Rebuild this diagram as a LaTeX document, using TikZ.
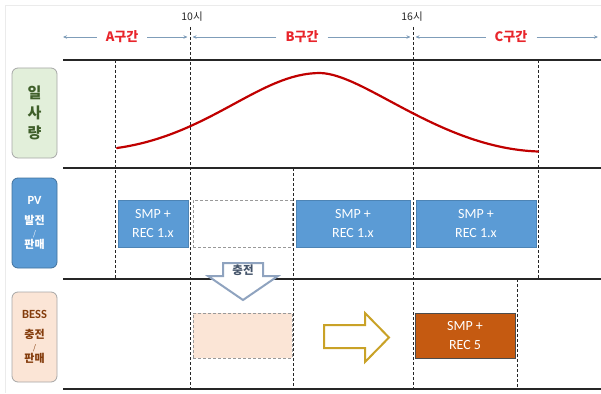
\documentclass[tikz,border=0pt]{standalone}
\usepackage{fontspec}
\setmainfont{Carlito}
\newfontfamily\kr{Noto Sans CJK KR}
\usetikzlibrary{arrows.meta}
\definecolor{ivline}{HTML}{7F9DB9}
\definecolor{ivred}{HTML}{E8252B}
\definecolor{curvered}{HTML}{C00000}
\definecolor{pvblue}{HTML}{5B9BD5}
\definecolor{pvborder}{HTML}{41719C}
\definecolor{bessorange}{HTML}{C55A11}
\definecolor{peach}{HTML}{FBE5D6}
\definecolor{brown}{HTML}{843C0C}
\definecolor{sungreen}{HTML}{E2EFDA}
\definecolor{sundark}{HTML}{3F5F2A}
\definecolor{gold}{HTML}{C9A227}
\definecolor{downblue}{HTML}{8FA3BF}
\definecolor{downtext}{HTML}{44546A}
\tikzset{
  ivarrow/.style={draw=ivline, line width=0.8pt, -{Stealth[length=4pt,width=3.5pt]}},
  ivlabel/.style={font=\kr\bfseries\fontsize{13}{15}\selectfont, text=ivred, inner xsep=9pt, inner ysep=2pt},
  hourlabel/.style={font=\kr\fontsize{10.5}{12}\selectfont, text=black!85},
  rowline/.style={draw=black!85, line width=1.1pt},
  vdash/.style={draw=black!85, line width=0.8pt, dash pattern=on 3pt off 2pt},
  sidebox/.style={rounded corners=6pt, minimum width=45pt, minimum height=90pt, line width=0.8pt, align=center},
  pvbox/.style={fill=pvblue, draw=pvblue!85!black, line width=0.5pt, text=white, align=center,
    font=\fontsize{14}{19}\selectfont, minimum height=47pt, inner sep=0pt},
  dashbox/.style={draw=gray!80, line width=0.8pt, dash pattern=on 3pt off 2pt, minimum height=47pt, inner sep=0pt},
}
\begin{document}
\begin{tikzpicture}[x=1pt,y=-1pt]
\useasboundingbox (0,0) rectangle (601,393);
\draw[black!8, line width=0.6pt] (5,5) -- (601,5) (5,5) -- (5,393);

% horizontal row lines
\draw[rowline] (63,60) -- (601,60);
\draw[rowline] (63,168) -- (601,168);
\draw[rowline] (63,279) -- (601,279);
\draw[rowline] (63,389) -- (601,389);

% vertical dashed lines
\draw[vdash] (115,60) -- (115,279);
\draw[vdash] (190,27) -- (190,389);
\draw[vdash] (413,27) -- (413,389);
\draw[vdash] (538,60) -- (538,279);
\draw[vdash] (293.5,168) -- (293.5,389);
\draw[vdash] (517,279) -- (517,389);

% hour labels
\node[hourlabel] (h10) at (192,17) {10시};
\node[hourlabel] (h16) at (412,17) {16시};

% interval arrows
\coordinate (a0) at (63,37);
\coordinate (a1) at (187.5,37);
\coordinate (b0) at (192.5,37);
\coordinate (b1) at (410.5,37);
\coordinate (c0) at (415.5,37);
\coordinate (c1) at (598,37);
\node[ivlabel] (A) at (122,37) {A구간};
\node[ivlabel] (B) at (302,37) {B구간};
\node[ivlabel] (C) at (511,37) {C구간};
\draw[ivarrow] (A) -- (a0);
\draw[ivarrow] (A) -- (a1);
\draw[ivarrow] (B) -- (b0);
\draw[ivarrow] (B) -- (b1);
\draw[ivarrow] (C) -- (c0);
\draw[ivarrow] (C) -- (c1);

% irradiance curve
\draw[curvered, line width=2.2pt, line cap=round]
 (117,148) .. controls (210,135) and (260,73) .. (320,73)
 .. controls (365,74) and (440,148) .. (538,151.5);

% side labels
\node[sidebox, fill=sungreen, draw=gray!70, text=sundark, font=\kr\bfseries\fontsize{15}{20}\selectfont] (sun) at (34.5,113) {일\\사\\량};
\node[sidebox, fill=pvblue, draw=pvborder, text=white] (pv) at (34.5,223)
 {{\bfseries\fontsize{12.5}{13}\selectfont PV}\\[8pt]
  {\kr\bfseries\fontsize{11}{12}\selectfont 발전}\\[0pt]
  {\kr\fontsize{7.5}{7.5}\selectfont /}\\[0pt]
  {\kr\bfseries\fontsize{11}{12}\selectfont 판매}};
\node[sidebox, fill=peach, draw=gray!70, text=brown] (bess) at (34.5,337)
 {{\bfseries\fontsize{12.5}{13}\selectfont BESS}\\[8pt]
  {\kr\bfseries\fontsize{11}{12}\selectfont 충전}\\[0pt]
  {\kr\fontsize{7.5}{7.5}\selectfont /}\\[0pt]
  {\kr\bfseries\fontsize{11}{12}\selectfont 판매}};

% PV row boxes
\node[pvbox, minimum width=70pt] (pv1) at (153,223.5) {SMP +\\REC 1.x};
\node[dashbox, fill=white, minimum width=99pt] (pvd) at (242.5,223.5) {};
\node[pvbox, minimum width=114pt] (pv2) at (353,223.5) {SMP +\\REC 1.x};
\node[pvbox, minimum width=120pt] (pv3) at (476,223.5) {SMP +\\REC 1.x};

% BESS row boxes
\node[dashbox, fill=peach, minimum width=99pt, minimum height=45pt] (bd) at (242.5,335.5) {};
\node[pvbox, fill=bessorange, draw=gray!60!black, minimum width=100pt, minimum height=45pt] (bo) at (465,335.5) {SMP +\\REC 5};

% charge down arrow
\draw[draw=downblue, fill=white, line width=2pt, line join=miter]
 (223,263) -- (263,263) -- (263,276) -- (278,276) -- (243,300) -- (208,276) -- (223,276) -- cycle;
\node[font=\kr\bfseries\fontsize{11.5}{12}\selectfont, text=downtext] (chg) at (243,270.5) {충전};

% hollow right arrow
\draw[draw=gold, fill=white, line width=2pt, line join=miter]
 (324,325) -- (365,325) -- (365,313) -- (389,337.5) -- (365,362) -- (365,348) -- (324,348) -- cycle;
\end{tikzpicture}
\end{document}
